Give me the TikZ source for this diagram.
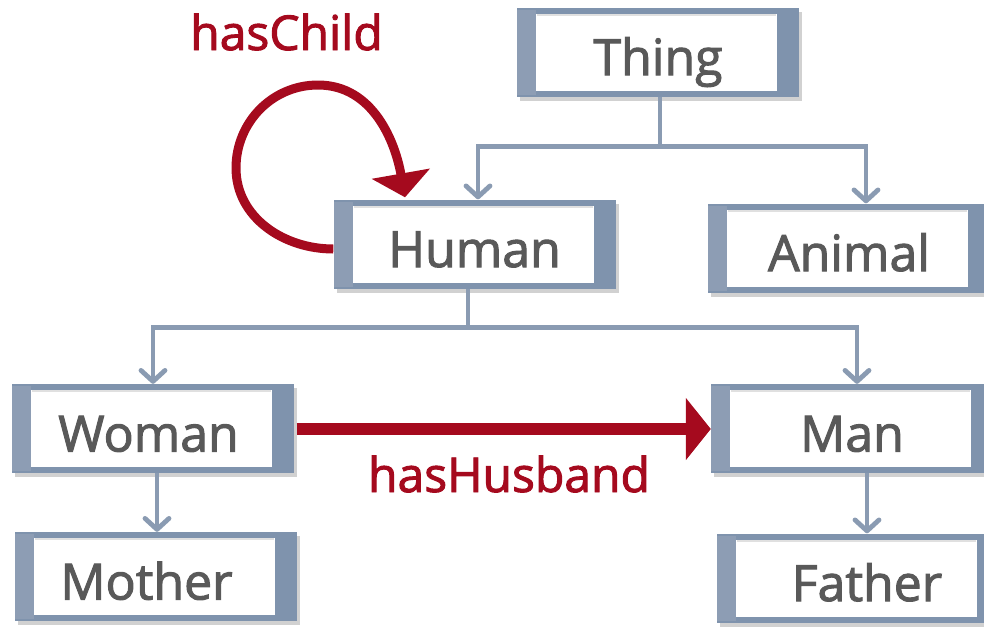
\documentclass[tikz,border=0pt]{standalone}
\usepackage{fontspec}
\setmainfont{Open Sans}
\newfontfamily\heavyfont{Open Sans}[FakeBold=2]
\usetikzlibrary{arrows.meta,shadows}
\definecolor{boxblue}{HTML}{7F93AD}
\definecolor{barlight}{HTML}{8D9DB4}
\definecolor{linegrey}{HTML}{8A9BB2}
\definecolor{relred}{HTML}{A50A1E}
\definecolor{textgrey}{HTML}{595959}
\begin{document}
\begin{tikzpicture}[x=1pt,y=-1pt,
  cls/.style={minimum width=282pt, minimum height=89pt, inner sep=0pt,
    fill=boxblue, text=textgrey, font=\heavyfont\fontsize{50}{60}\selectfont,
    text height=46pt, text depth=0pt,
    drop shadow={shadow xshift=3pt,shadow yshift=-4pt,opacity=0.3,fill=black!60},
    path picture={
      \fill[barlight] ([yshift=2pt]path picture bounding box.south west) rectangle ([xshift=19pt,yshift=-2pt]path picture bounding box.north west);
      \fill[white] ([xshift=19pt,yshift=6pt]path picture bounding box.south west) rectangle ([xshift=-22pt,yshift=-6pt]path picture bounding box.north east);
      \draw[black!12,line width=2pt] ([xshift=20pt,yshift=-7pt]path picture bounding box.north west) -- ([xshift=-23pt,yshift=-7pt]path picture bounding box.north east);
    }},
  conn/.style={draw=linegrey, line width=4.8pt, -{Straight Barb[length=11pt,width=24pt,round]}},
  rel/.style={draw=relred, line width=12pt, -{Triangle[length=25pt,width=61pt]}},
  relloop/.style={draw=relred, line width=9pt, -{Triangle[length=24pt,width=58pt]}},
  rellabel/.style={text=relred, font=\heavyfont\fontsize{48}{58}\selectfont, inner sep=0pt, anchor=base}
]
\useasboundingbox (0,0) rectangle (984,627);

\node[cls] (Thing)  at (658,52)    {Thing};
\node[cls] (Human)  at (474.5,244) {Human};
\node[cls] (Animal) at (849,248)   {Animal};
\node[cls] (Woman)  at (152.5,428.5) {Woman\hspace*{8pt}};
\node[cls] (Man)    at (852,428.5) {Man};
\node[cls] (Mother) at (155.5,576.5) {Mother\hspace*{18pt}};
\node[cls] (Father) at (858,578)   {\hspace*{18pt}Father};

% taxonomy connectors
\draw[conn] ([xshift=2pt]Thing.south) -- ++(0,50) -| ([xshift=3.5pt]Human.north);
\draw[conn] ([xshift=2pt]Thing.south) -- ++(0,50) -| ([xshift=17pt]Animal.north);
\draw[conn] ([xshift=-6.5pt]Human.south) -- ++(0,39) -| ([xshift=0.5pt]Woman.north);
\draw[conn] ([xshift=-6.5pt]Human.south) -- ++(0,39) -| ([xshift=5pt]Man.north);
\draw[conn] ([xshift=4.5pt]Woman.south) -- ([xshift=1.5pt]Mother.north);
\draw[conn] ([xshift=15pt]Man.south) -- ([xshift=9pt]Father.north);

% relations
\draw[rel] ([xshift=3pt,yshift=-0.5pt]Woman.east) -- ([yshift=-0.5pt]Man.west);
\node[rellabel] (lblHusband) at (509,492) {hasHusband};

\draw[relloop] ([yshift=-5pt]Human.west) to[out=180,in=270] (236,168)
  to[out=90,in=180] (318,85) to[out=0,in=100] ([xshift=-69.5pt,yshift=2pt]Human.north);
\node[rellabel] (lblChild) at (286.5,50) {hasChild};
\end{tikzpicture}
\end{document}
